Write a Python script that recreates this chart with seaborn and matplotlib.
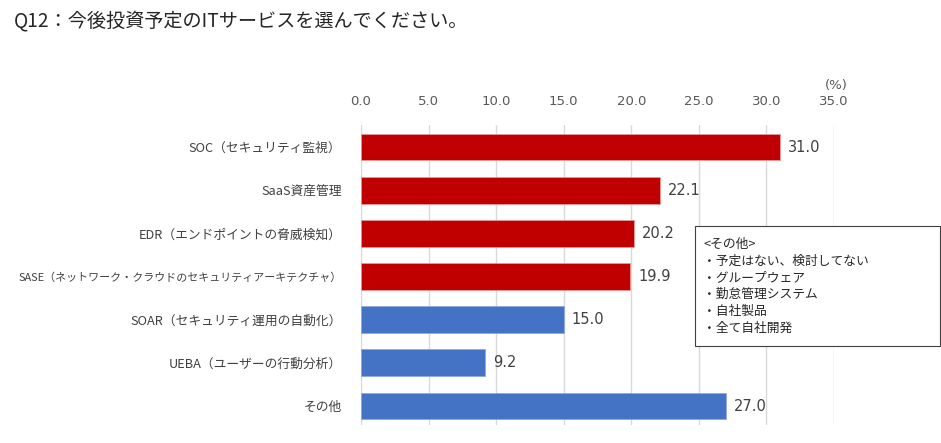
import matplotlib
matplotlib.use("Agg")
import matplotlib.pyplot as plt
from matplotlib.patches import Rectangle
import seaborn as sns
import pandas as pd

# data
categories = [
    "SOC（セキュリティ監視）",
    "SaaS資産管理",
    "EDR（エンドポイントの脅威検知）",
    "SASE（ネットワーク・クラウドのセキュリティアーキテクチャ）",
    "SOAR（セキュリティ運用の自動化）",
    "UEBA（ユーザーの行動分析）",
    "その他",
]
values = [31.0, 22.1, 20.2, 19.9, 15.0, 9.2, 27.0]
groups = ["top", "top", "top", "top", "rest", "rest", "rest"]
x_ticks = [0, 5, 10, 15, 20, 25, 30, 35]
other_notes = ["予定はない、検討してない", "グループウェア", "勤怠管理システム", "自社製品", "全て自社開発"]

title = "Q12：今後投資予定のITサービスを選んでください。"
palette = {"top": "#C00000", "rest": "#4472C4"}
edges = {"top": "#e49a9a", "rest": "#8fa9dc"}

sns.set_theme(style="white")
plt.rcParams['font.family'] = ['Noto Sans CJK JP', 'DejaVu Sans']

df = pd.DataFrame({"item": categories, "value": values, "group": groups})

fig = plt.figure(figsize=(9.41, 4.43), dpi=100)
ax = fig.add_axes([361 / 941, 1 - 425 / 443, (834 - 361) / 941, 300 / 443])

sns.barplot(data=df, x="value", y="item", hue="group", palette=palette,
            order=categories, dodge=False, legend=False, width=0.62,
            saturation=1, linewidth=0.6, ax=ax)
# barplot with hue draws per hue level, so match bars back by y position
for p in ax.patches:
    idx = int(round(p.get_y() + p.get_height() / 2))
    p.set_edgecolor(edges[groups[idx]])

for i, v in enumerate(values):
    ax.text(v + 0.6, i, f"{v:.1f}", va="center", ha="left", fontsize=10.5,
            color="#404040", family=['DejaVu Sans'])

ax.set_xlim(0, 35)
ax.set_ylim(6.44, -0.51)
ax.set_xticks(x_ticks)
ax.set_xticklabels([f"{t:.1f}" for t in x_ticks], color="#595959", fontsize=9.5,
                   family=['DejaVu Sans'])
ax.xaxis.tick_top()
ax.tick_params(axis="x", length=0, pad=12)
ax.tick_params(axis="y", length=0, pad=14, labelsize=9.2, labelcolor="#404040")
# the long SASE label is set a bit smaller so it fits like in the original
for lab in ax.get_yticklabels():
    if lab.get_text().startswith("SASE"):
        lab.set_fontsize(7.9)
ax.set_xlabel("")
ax.set_ylabel("")
ax.grid(axis="x", color="#d9d9d9", linewidth=1)
ax.set_axisbelow(True)
for s in ax.spines.values():
    s.set_visible(False)

fig.text(848 / 941, 1 - 86 / 443, "(%)", ha="right", va="center", fontsize=9.5,
         color="#595959", family=['DejaVu Sans'])
fig.text(14 / 941, 1 - 21 / 443, title, ha="left", va="center", fontsize=13.8,
         color="#262626")

# note box for "その他"
fig.patches.append(Rectangle((695 / 941, 1 - 346 / 443), (940 - 695) / 941, 120 / 443,
                             transform=fig.transFigure, facecolor="white",
                             edgecolor="#404040", linewidth=0.8, zorder=5))
box_text = "<その他>\n" + "\n".join("・" + n for n in other_notes)
fig.text(703 / 941, 1 - 286 / 443, box_text, ha="left", va="center", fontsize=9.2,
         color="#262626", linespacing=1.38, zorder=6)

fig.savefig("out.png", dpi=100)
